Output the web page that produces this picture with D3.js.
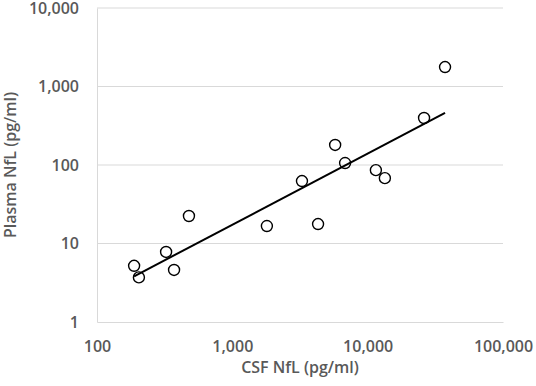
<!DOCTYPE html>
<html><head><meta charset="utf-8">
<script src="https://cdn.jsdelivr.net/npm/d3@7"></script>
<style>body{margin:0;background:#fff}text{font-family:"Open Sans",sans-serif}</style>
</head><body><svg id="c" width="536" height="386"></svg>
<script>
const csfNfL    = [188, 204, 324, 371, 478, 1800, 3270, 4300, 5750, 6810, 11500, 13400, 26100, 37300];
const plasmaNfL = [5.2, 3.7, 7.8, 4.6, 22.4, 16.7, 62.5, 17.7, 180, 106, 86, 68, 397, 1770];
const xTicks = [100, 1000, 10000, 100000];
const yTicks = [1, 10, 100, 1000, 10000];
const xTitle = "CSF NfL (pg/ml)";
const yTitle = "Plasma NfL (pg/ml)";

const svg = d3.select("#c");
const L = 97, R = 503, T = 8, B = 322;
const x = d3.scaleLog().domain([100, 100000]).range([L, R]);
const y = d3.scaleLog().domain([1, 10000]).range([B, T]);
const fmt = d3.format(",");
const grey = "#595959";

// gridlines
svg.append("g").selectAll("line").data(yTicks.slice(1)).join("line")
  .attr("x1", L).attr("x2", R).attr("y1", d => y(d)).attr("y2", d => y(d))
  .attr("stroke", "#d9d9d9").attr("stroke-width", 1);

// axes
const xAxis = svg.append("g").attr("transform", `translate(0,${B})`)
  .call(d3.axisBottom(x).tickValues(xTicks).tickFormat(fmt).tickSize(0).tickPadding(19));
const yAxis = svg.append("g").attr("transform", `translate(${L},0)`)
  .call(d3.axisLeft(y).tickValues(yTicks).tickFormat(fmt).tickSize(0).tickPadding(18));
[xAxis, yAxis].forEach(a => {
  a.select(".domain").attr("stroke", "#d9d9d9").attr("stroke-width", 1);
  a.selectAll("text").attr("fill", grey).style("font-size", "16px").style("font-weight", 600)
    .style("font-family", '"Open Sans",sans-serif');
});

// power trendline (least squares in log-log space)
const lx = csfNfL.map(Math.log10), ly = plasmaNfL.map(Math.log10);
const mx = d3.mean(lx), my = d3.mean(ly);
const b = d3.sum(lx.map((v, i) => (v - mx) * (ly[i] - my))) / d3.sum(lx.map(v => (v - mx) ** 2));
const a = my - b * mx;
const xe = d3.extent(csfNfL);
svg.append("line")
  .attr("x1", x(xe[0])).attr("y1", y(10 ** (a + b * Math.log10(xe[0]))))
  .attr("x2", x(xe[1])).attr("y2", y(10 ** (a + b * Math.log10(xe[1]))))
  .attr("stroke", "#000").attr("stroke-width", 2);

// points
svg.append("g").selectAll("circle").data(csfNfL).join("circle")
  .attr("cx", d => x(d)).attr("cy", (d, i) => y(plasmaNfL[i])).attr("r", 5.5)
  .attr("fill", "#fff").attr("fill-opacity", 0).attr("stroke", "#000").attr("stroke-width", 1.4);

// titles
svg.append("text").attr("x", (L + R) / 2).attr("y", 373).attr("text-anchor", "middle")
  .attr("fill", grey).style("font-size", "16px").style("font-weight", 600).text(xTitle);
svg.append("text").attr("transform", `translate(16,${(T + B) / 2}) rotate(-90)`).attr("text-anchor", "middle")
  .attr("fill", grey).style("font-size", "16px").style("font-weight", 600).text(yTitle);
</script></body></html>
